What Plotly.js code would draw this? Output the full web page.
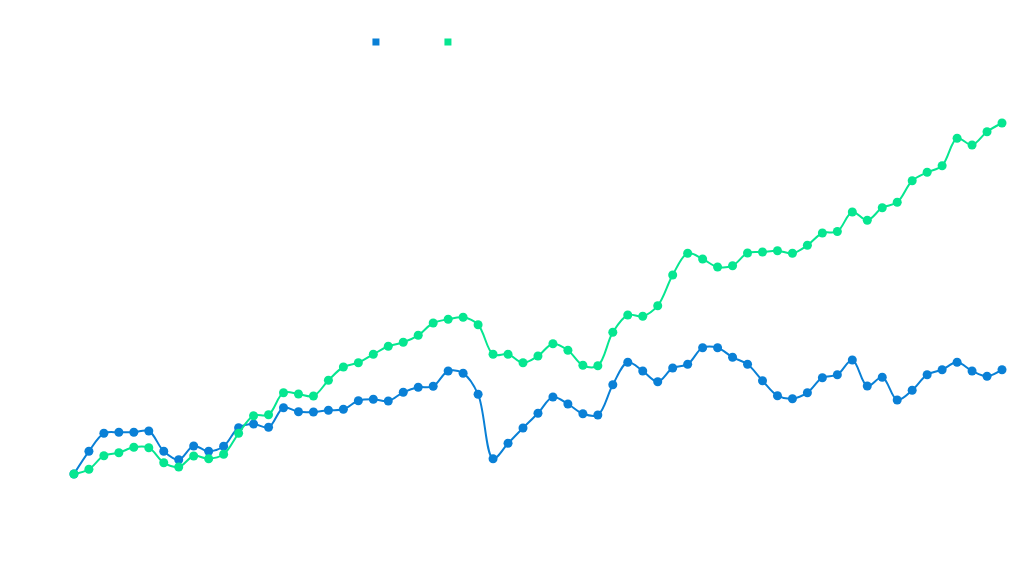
<!DOCTYPE html>
<html>
<head>
<meta charset="utf-8">
<script src="https://cdn.plot.ly/plotly-3.0.1.min.js"></script>
<style>
  html, body { margin: 0; padding: 0; background: #ffffff; }
  #chart { width: 1024px; height: 576px; }
</style>
</head>
<body>
<div id="chart"></div>
<script>
// period index, 63 points
let periods = [];
for (let i = 0; i < 63; i++) periods.push(i);

// blue series
let seriesA = [
    26, 48.7, 66.7, 67.7, 67.7, 69, 48.7, 40.3, 54, 48.7,
    53.7, 72.3, 76, 72.7, 92.3, 88.3, 88, 89.7, 90.7, 99.3,
    100.7, 99, 107.7, 112.7, 113.7, 129, 126.7, 105.7, 41.3, 56.7,
    72, 86.7, 103, 96, 86.3, 85, 115.3, 137.7, 129, 118.3,
    132, 135.7, 152.3, 152.3, 142.7, 135.7, 119.3, 104.3, 101.3, 107.3,
    122.3, 125.3, 140, 114, 122.7, 100, 109.7, 125.3, 130.3, 137.7,
    129, 123.7, 130.3
];

// green series
let seriesB = [
    26, 30.7, 44.3, 47.3, 52.7, 52.3, 37.3, 33, 44, 41.3,
    45.7, 66.7, 84.3, 85.3, 107.3, 106, 104, 119.7, 133, 137.3,
    145.7, 153.7, 157.7, 164.7, 177, 180.7, 182.7, 175.3, 145.7, 145.7,
    137.3, 144, 156.3, 149.7, 134.7, 134.3, 167.7, 185, 183.7, 194.3,
    225, 246.7, 241, 233, 234.3, 247, 248, 249.3, 246.7, 254.7,
    267, 268.5, 288, 279.7, 292.3, 297.7, 319.3, 327.7, 334.3, 361.7,
    355, 368.3, 377
];

let colorA = '#0a80d6';
let colorB = '#06e690';

window.addEventListener("DOMContentLoaded", init);

function init() {
    let data = dataset();
    Plotly.newPlot('chart', data, layout(), { staticPlot: true });
}

function lineTrace(y, color) {
    return {
        x: periods, y: y, type: 'scatter', mode: 'lines+markers',
        line: { color: color, width: 2, shape: 'spline' },
        marker: { color: color, size: 9 },
        showlegend: false
    };
}

function legendTrace(color) {
    // only the small square shows in the legend
    return {
        x: [null], y: [null], type: 'scatter', mode: 'markers', name: '',
        marker: { color: color, size: 7, symbol: 'square' }
    };
}

function dataset() {
    return [
        lineTrace(seriesA, colorA),
        lineTrace(seriesB, colorB),
        legendTrace(colorA),
        legendTrace(colorB)
    ];
}

function layout() {
    return {
        width: 1024, height: 576,
        margin: { l: 0, r: 0, t: 0, b: 0 },
        paper_bgcolor: '#ffffff', plot_bgcolor: '#ffffff',
        xaxis: { visible: false, range: [-4.94, 63.47] },
        yaxis: { visible: false, range: [-76, 500] },
        showlegend: true,
        legend: {
            orientation: 'h', x: 0.3476, y: 0.9273, xanchor: 'left', yanchor: 'middle',
            entrywidth: 27, entrywidthmode: 'pixels',
            font: { family: 'Roboto', size: 12, color: '#373d3f' }
        }
    };
}
</script>
</body>
</html>
